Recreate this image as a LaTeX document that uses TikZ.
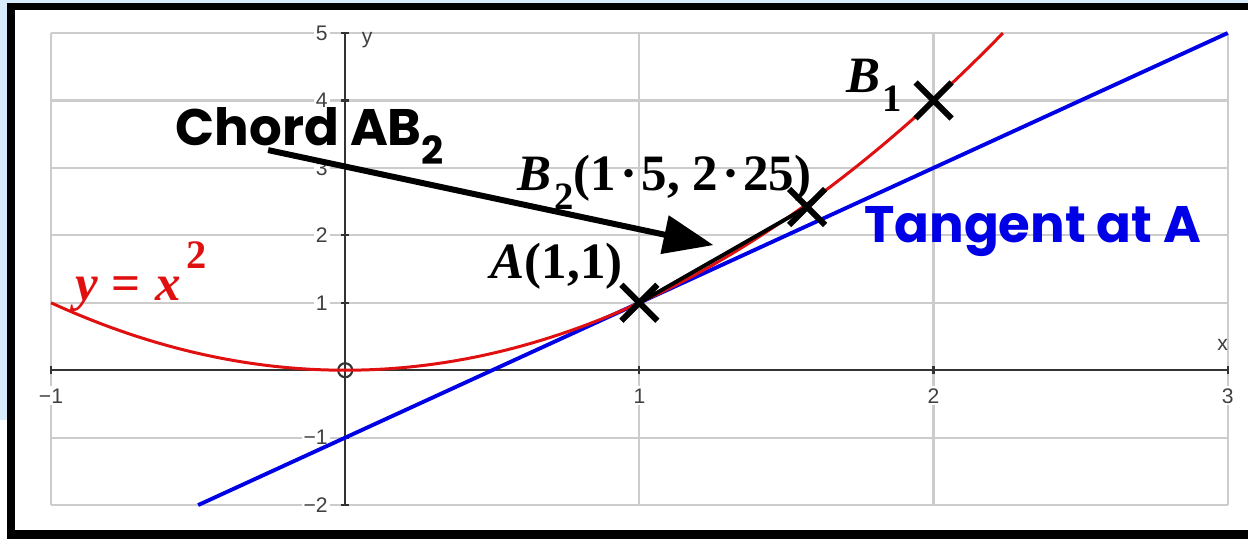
\documentclass[tikz,border=0pt]{standalone}
\usepackage{fontspec}
\usetikzlibrary{arrows.meta,shapes.misc}
\newfontfamily\comicfont{Poppins}
\newfontfamily\timesfont{Liberation Serif}
\newfontfamily\tickfont{Liberation Sans}
\definecolor{skyblue}{HTML}{D6EBFC}
\definecolor{gridgray}{HTML}{CCCCCC}
\definecolor{curvered}{HTML}{E01010}
\definecolor{tanblue}{HTML}{0000E6}
\newcommand\lowsub[1]{\raisebox{-0.38em}{\fontsize{11}{12}\selectfont #1}}
\newcommand\highsup[1]{\raisebox{0.62em}{\fontsize{11.5}{12}\selectfont #1}}
\newcommand\middot{\kern0.08em·\kern0.08em}

\tikzset{
  gridline/.style={gridgray, line width=0.6pt},
  axisline/.style={black!80, line width=0.6pt},
  ticklbl/.style={font=\tickfont\fontsize{6}{7}\selectfont, text=black!75, fill=white, inner sep=0.6pt},
  xmark/.style={cross out, draw=black, line width=1.7pt, minimum size=0.3cm, inner sep=0pt},
  pointer/.style={line width=1.7pt, -{Triangle[length=0.5cm,width=0.38cm]}},
  comiclbl/.style={font=\comicfont\bfseries\fontsize{14.6}{18}\selectfont, anchor=base west, inner sep=0pt},
  pointlbl/.style={font=\timesfont\bfseries\fontsize{14.5}{18}\selectfont, anchor=base west, inner sep=0pt},
}

\begin{document}
\begin{tikzpicture}[x=2.94cm, y=0.674cm]
    % Define dimensions (frame in pixels)
    \def\framew{1248}
    \def\frameh{539}

    % Frame and background strips
    \begin{scope}[x=0.01cm, y=-0.01cm, shift={(-3.45cm,3.70cm)}]
        \useasboundingbox (0,0) rectangle (\framew,\frameh);
        \fill[white] (0,0) rectangle (\framew,\frameh);
        \fill[skyblue] (0,0) rectangle (\framew,3);
        \fill[skyblue] (0,0) rectangle (7,420);
        \fill[black] (7,3) rectangle (\framew,10);
        \fill[black] (7,3) rectangle (15,\frameh);
        \fill[black] (7,530) rectangle (\framew,\frameh);
    \end{scope}

    % Grid lines
    \foreach \y in {-2,...,5}
        \draw[gridline] (-1,\y) -- (3,\y);
    \foreach \x in {-1,1,2,3}
        \draw[gridline] (\x,-2) -- (\x,5);

    % Axes and ticks
    \draw[axisline] (-1,0) -- (3,0);
    \draw[axisline] (0,-2) -- (0,5);
    \foreach \x in {-1,1,2,3}
        \draw[axisline] (\x,-0.06) -- (\x,0.06);
    \foreach \y in {-2,-1,1,2,3,4,5}
        \draw[axisline] (-0.014,\y) -- (0.014,\y);

    % Tick labels
    \foreach \y/\t in {-2/−2,-1/−1,1/1,2/2,3/3,4/4,5/5}
        \node[ticklbl, anchor=east] (ylbl\y) at (-0.05,\y) {\t};
    \foreach \x/\t in {-1/−1,1/1,2/2,3/3}
        \node[ticklbl] (xlbl\x) at (\x,-0.38) {\t};
    \node[ticklbl, fill=none] (yname) at (0.075,4.90) {y};
    \node[ticklbl, fill=none] (xname) at (2.983,0.37) {x};
    \node[circle, draw=black!80, line width=0.6pt, minimum size=0.14cm, inner sep=0pt] (O) at (0,0) {};

    % Tangent and curve
    \draw[tanblue, line width=1.1pt] (-0.5,-2) -- (3,5);
    \draw[curvered, line width=0.85pt, domain=-1:2.236, samples=100] plot (\x,{\x*\x});

    % Points and chord
    \node[xmark] (A) at (1,1) {};
    \node[xmark] (B2) at (1.57,2.42) {};
    \node[xmark] (B1) at (2,4) {};
    \draw[black, line width=1.1pt] (A.center) -- (B2.center);

    % Arrow to the chord
    \coordinate (chordtail) at (-0.262,3.264);
    \coordinate (chordtip) at (1.252,1.855);
    \draw[pointer] (chordtail) -- (chordtip);

    % Labels
    \node[comiclbl] (chordlbl) at (-0.578,3.338) {Chord AB\lowsub{2}};
    \node[comiclbl, text=tanblue] (tanlbl) at (1.762,1.899) {Tangent at A};
    \node[pointlbl] (B1lbl) at (1.701,4.125) {\textit{B}\kern0.05em\lowsub{1}};
    \node[pointlbl] (B2lbl) at (0.585,2.671) {\textit{B}\kern0.05em\lowsub{2}(1\middot5, 2\middot25)};
    \node[pointlbl] (Albl) at (0.493,1.365) {\textit{A}(1,1)};
    \node[pointlbl, text=curvered] (curvelbl) at (-0.918,1.039) {\textit{y}\kern0.25em=\kern0.3em\textit{x}\kern0.1em\highsup{2}};
\end{tikzpicture}
\end{document}
